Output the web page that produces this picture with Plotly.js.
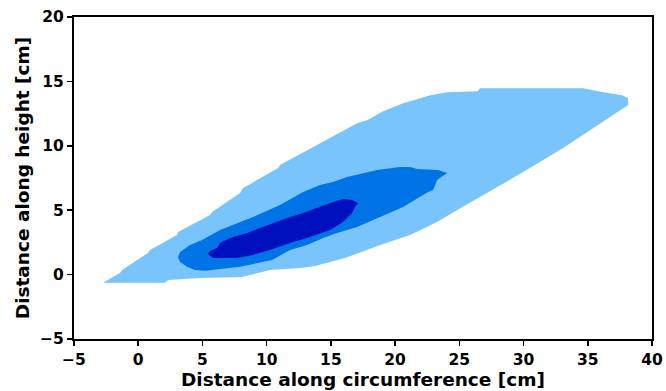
<!DOCTYPE html>
<html>
<head>
<meta charset="utf-8">
<script src="https://cdn.plot.ly/plotly-3.0.1.min.js"></script>
<style>html,body{margin:0;padding:0;background:#fff;}#chart{width:666px;height:391px;}</style>
</head>
<body>
<div id="chart"></div>
<script>
// Region boundaries (data units, cm)
const outerX = [-2.74, 2.09, 2.32, 4.81, 8.08, 10.26, 12.60, 13.77, 16.11, 18.83, 21.17, 23.27, 24.83, 29.97, 33.08, 36.74, 38.15, 38.15, 37.68, 36.20, 34.64, 26.62, 26.39, 24.05, 22.73, 21.71, 20.62, 19.07, 17.82, 17.04, 11.04, 10.89, 8.16, 7.93, 5.75, 5.59, 3.10, 3.02, 0.92, 0.76, -1.26, -1.42, -2.74];
const outerY = [-0.64, -0.64, -0.41, -0.26, -0.18, 0.36, 0.52, 0.67, 1.29, 2.30, 3.08, 4.09, 5.02, 7.96, 9.82, 12.22, 13.16, 13.70, 13.93, 14.16, 14.47, 14.47, 14.24, 14.16, 13.93, 13.62, 13.31, 12.69, 11.99, 11.76, 8.50, 8.27, 6.72, 6.33, 4.86, 4.63, 3.31, 3.08, 1.91, 1.68, 0.36, 0.13, -0.64];

const midX = [3.10, 3.26, 3.80, 4.42, 5.20, 7.93, 10.42, 11.82, 13.15, 14.39, 15.48, 17.04, 18.83, 20.62, 22.57, 22.96, 23.27, 24.05, 23.35, 21.71, 21.17, 20.39, 18.60, 17.51, 16.26, 15.17, 14.16, 12.83, 11.04, 8.94, 7.69, 6.37, 4.97, 4.03, 3.26, 3.10];
const midY = [1.37, 0.98, 0.60, 0.36, 0.29, 0.60, 1.14, 1.91, 2.30, 2.84, 3.23, 3.70, 4.47, 5.25, 6.41, 6.57, 7.34, 7.88, 8.12, 8.19, 8.35, 8.35, 8.12, 7.88, 7.57, 7.19, 6.95, 6.41, 5.40, 4.47, 4.01, 3.47, 2.69, 2.30, 1.76, 1.37];

const innerX = [5.44, 5.83, 7.69, 8.94, 10.26, 11.82, 13.38, 14.94, 15.95, 16.65, 16.88, 17.12, 16.65, 15.95, 14.94, 13.93, 12.83, 11.59, 10.50, 9.49, 8.47, 7.15, 6.37, 6.14, 5.59, 5.44];
const innerY = [1.60, 1.29, 1.29, 1.53, 1.91, 2.46, 2.92, 3.47, 4.09, 4.78, 5.25, 5.56, 5.79, 5.87, 5.56, 5.17, 4.78, 4.40, 4.01, 3.62, 3.23, 2.84, 2.46, 2.07, 1.84, 1.60];

const tickValsX = [-5, 0, 5, 10, 15, 20, 25, 30, 35, 40];
const tickValsY = [-5, 0, 5, 10, 15, 20];

const colors = ['#79c5fb', '#0073e6', '#0010bf'];

function region(x, y, c) {
  return {type: 'scatter', mode: 'lines', x: x, y: y, fill: 'toself', fillcolor: c,
          line: {width: 0, color: c}, hoverinfo: 'skip', showlegend: false};
}

const tickFont = {family: 'DejaVu Sans', size: 15.5, color: '#000', weight: 700};
const titleFont = {family: 'DejaVu Sans', size: 18.5, color: '#000', weight: 700};

const axisCommon = {
  showgrid: false, zeroline: false, showline: true, mirror: true,
  linecolor: '#000', linewidth: 2, ticks: 'outside', ticklen: 5, tickwidth: 1.5,
  tickcolor: '#000', tickfont: tickFont
};

const layout = {
  width: 666, height: 391,
  margin: {l: 74, r: 14, t: 17, b: 52},
  paper_bgcolor: '#fff', plot_bgcolor: '#fff',
  xaxis: Object.assign({}, axisCommon, {range: [-5, 40], tickvals: tickValsX,
    title: {text: 'Distance along circumference [cm]', font: titleFont, standoff: 3}}),
  yaxis: Object.assign({}, axisCommon, {range: [-5, 20], tickvals: tickValsY,
    title: {text: 'Distance along height [cm]', font: titleFont, standoff: 6}}),
  showlegend: false
};

Plotly.newPlot('chart', [
  region(outerX, outerY, colors[0]),
  region(midX, midY, colors[1]),
  region(innerX, innerY, colors[2])
], layout, {displayModeBar: false, staticPlot: true});
</script>
</body>
</html>
